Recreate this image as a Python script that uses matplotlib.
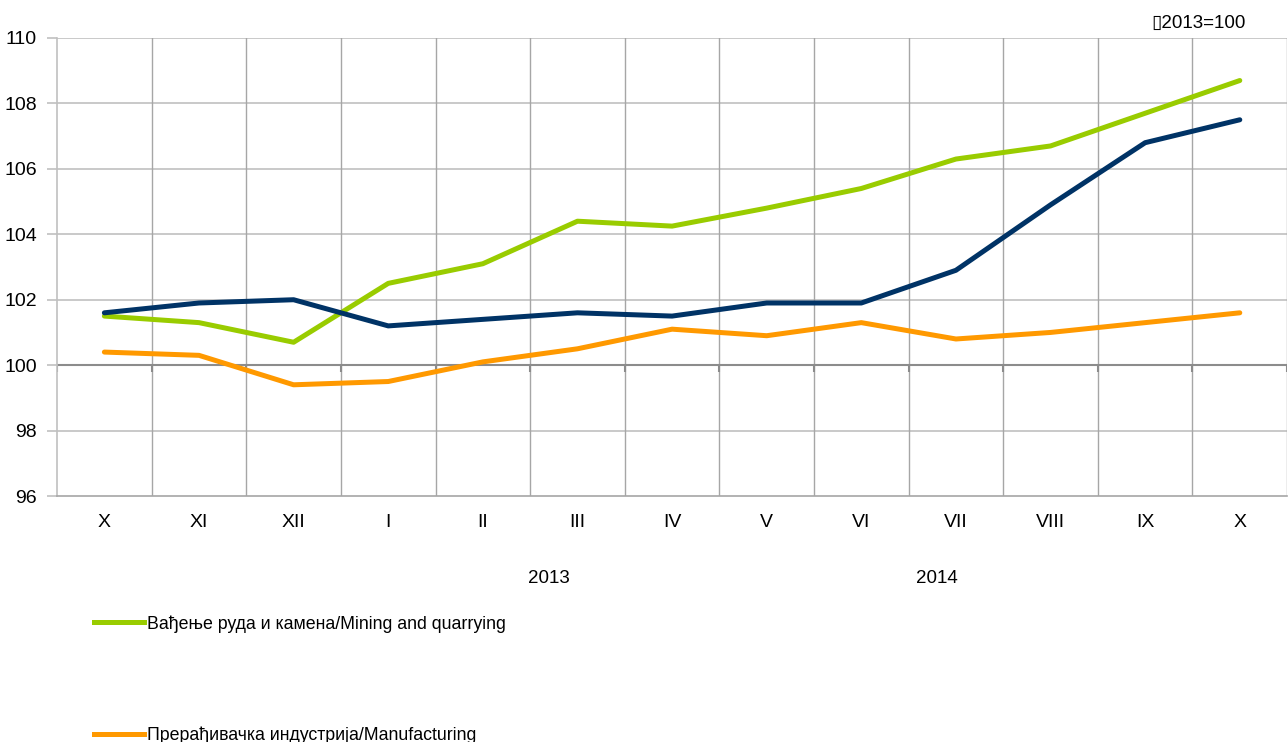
import numpy as np
import matplotlib
matplotlib.use("Agg")
import matplotlib.pyplot as plt
from matplotlib.lines import Line2D
from matplotlib.transforms import blended_transform_factory

plt.rcParams['font.family'] = ['Liberation Sans', 'DejaVu Sans']

# ===== Data =====
months = ["X", "XI", "XII", "I", "II", "III", "IV", "V", "VI", "VII", "VIII", "IX", "X"]
mining = [101.5, 101.3, 100.7, 102.5, 103.1, 104.4, 104.25, 104.8, 105.4, 106.3, 106.7, 107.7, 108.7]
total = [101.6, 101.9, 102.0, 101.2, 101.4, 101.6, 101.5, 101.9, 101.9, 102.9, 104.9, 106.8, 107.5]
manufacturing = [100.4, 100.3, 99.4, 99.5, 100.1, 100.5, 101.1, 100.9, 101.3, 100.8, 101.0, 101.3, 101.6]
years = ["2013", "2014"]
year_pos = [4.7, 8.8]

mining_label = "Вађење руда и камена/Mining and quarrying"
manuf_label = "Прерађивачка индустрија/Manufacturing"

GREEN = "#99CC00"
NAVY = "#003366"
ORANGE = "#FF9900"

# ===== Figure =====
fig = plt.figure(figsize=(12.88, 7.42), dpi=100)
ax = fig.add_axes([0.0443, 0.3315, 0.9550, 0.6173])

x = np.arange(len(months))
ax.set_xlim(-0.5, len(months) - 0.5)
ax.set_ylim(96, 110)
ax.set_yticks(np.arange(96, 111, 2))

# grid
for yv in np.arange(98, 111, 2):
    if yv != 100:
        ax.axhline(yv, color="#C0C0C0", lw=1.2, zorder=0)
bounds = np.arange(len(months) + 1) - 0.5
for xb in bounds[1:]:
    ax.axvline(xb, color="#A6A6A6", lw=1.0, zorder=0)

# category axis crossing at 100 with tick marks
ax.axhline(100, color="#8C8C8C", lw=1.5, zorder=1)
ax.vlines(bounds, 99.8, 100, color="#8C8C8C", lw=1.5, zorder=1)

ax.plot(x, mining, color=GREEN, lw=3.6, solid_capstyle="round", zorder=3)
ax.plot(x, total, color=NAVY, lw=3.6, solid_capstyle="round", zorder=3)
ax.plot(x, manufacturing, color=ORANGE, lw=3.6, solid_capstyle="round", zorder=3)

for side in ["top", "right"]:
    ax.spines[side].set_visible(False)
ax.spines["left"].set_color("#C0C0C0")
ax.spines["left"].set_linewidth(1.2)
ax.spines["bottom"].set_color("#A6A6A6")
ax.spines["bottom"].set_linewidth(1.2)

ax.set_xticks(x)
ax.set_xticklabels(months)
ax.tick_params(axis="x", length=0, pad=13, labelsize=14)
ax.tick_params(axis="y", length=7, color="#C0C0C0", width=1.2, pad=7.5, labelsize=14)

trans = blended_transform_factory(ax.transData, ax.transAxes)
for yr, xp in zip(years, year_pos):
    ax.text(xp, -0.179, yr, transform=trans, ha="center", va="center", fontsize=13.5)

fig.text(0.967, 0.969, "\u25af2013=100", ha="right", va="center", fontsize=13.5,
         family=['Liberation Sans', 'DejaVu Sans'])

handles = [Line2D([], [], color=GREEN, lw=3.6),
           Line2D([], [], color=ORANGE, lw=3.6)]
fig.legend(handles, [mining_label, manuf_label], loc="upper left",
           bbox_to_anchor=(0.073, 0.171), frameon=False, fontsize=12.8,
           handlelength=2.8, handletextpad=0.2, labelspacing=5.3,
           borderaxespad=0, borderpad=0)

fig.savefig("out.png", dpi=100)
